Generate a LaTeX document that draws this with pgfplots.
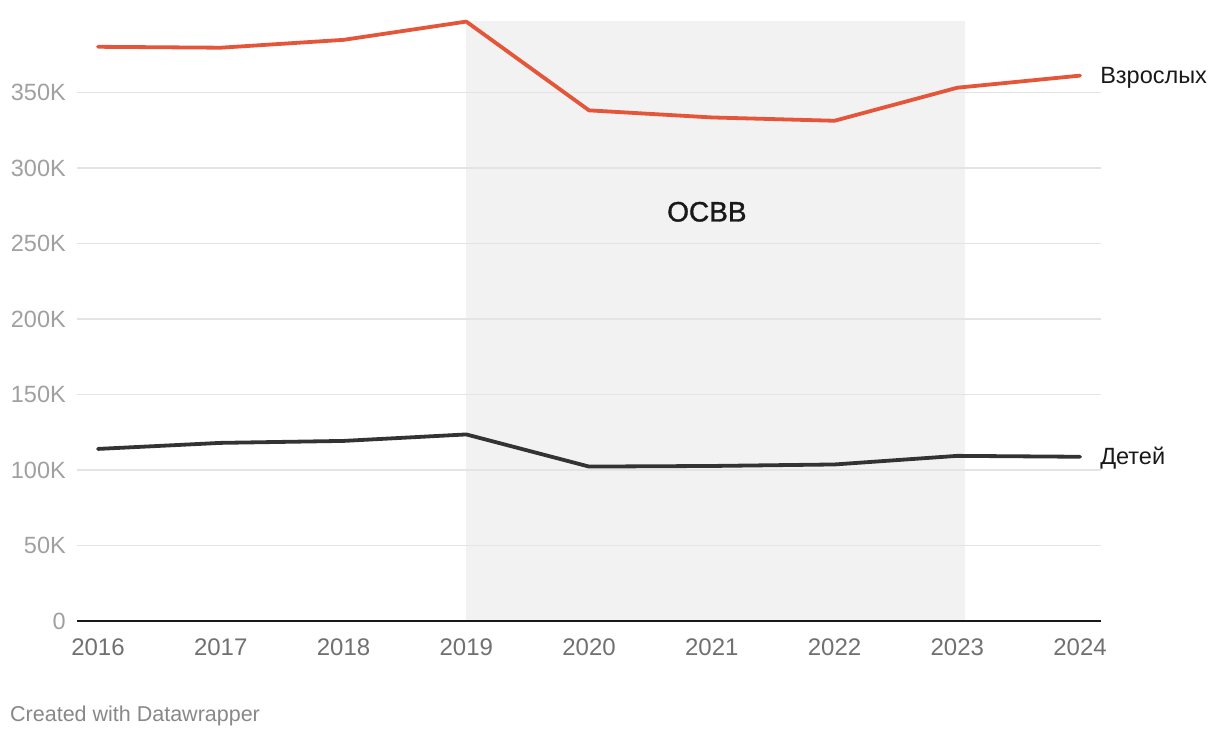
\documentclass[border=0pt]{standalone}
\usepackage{pgfplots}
\pgfplotsset{compat=1.18}
\usepackage{fontspec}
\setmainfont{Liberation Sans}
\newfontfamily\medfont[FakeBold=1.2]{Liberation Sans}
\definecolor{redline}{HTML}{E4553A}
\definecolor{darkline}{HTML}{333333}
\definecolor{shadec}{HTML}{F2F2F2}
\definecolor{gridc}{HTML}{E4E4E4}
\definecolor{ytickc}{HTML}{A0A0A0}
\definecolor{xtickc}{HTML}{707070}
\definecolor{notec}{HTML}{888888}
\begin{document}
\begin{tikzpicture}
\begin{axis}[
  set layers,
  at={(77pt,117pt)}, anchor=south west,
  scale only axis, width=1024pt, height=600pt,
  xmin=2015.829, xmax=2024.171, ymin=0, ymax=397500,
  clip=false,
  axis line style={draw=none},
  major tick length=0pt,
  ymajorgrids, grid style={gridc, line width=1.5pt},
  ytick={0,50000,100000,150000,200000,250000,300000,350000},
  yticklabels={0,50K,100K,150K,200K,250K,300K,350K},
  scaled y ticks=false,
  xtick={2016,2017,2018,2019,2020,2021,2022,2023,2024},
  xticklabels={2016,2017,2018,2019,2020,2021,2022,2023,2024},
  yticklabel style={text=ytickc, font=\fontsize{23.5}{28}\selectfont, anchor=east, inner sep=0pt, xshift=-11pt},
  xticklabel style={text=xtickc, font=\fontsize{24}{28}\selectfont, anchor=north, inner sep=0pt, yshift=-17.5pt},
]
\addplot[fill=shadec, draw=none, on layer=axis background] coordinates {(2019,397500)(2023.06,397500)} \closedcycle;
\addplot[black!90, line width=1.8pt] coordinates {(2015.829,0)(2024.171,0)};
\addplot[darkline, line width=3.8pt, line join=round, line cap=round] coordinates {
(2016,114000)(2017,118000)(2018,119300)(2019,123600)(2020,102300)(2021,102700)(2022,103700)(2023,109400)(2024,108800)};
\addplot[redline, line width=3.8pt, line join=round, line cap=round] coordinates {
(2016,380400)(2017,379800)(2018,385000)(2019,397100)(2020,338300)(2021,333600)(2022,331400)(2023,353300)(2024,361300)};
\node[anchor=base west, inner sep=0pt, xshift=20pt, yshift=-7.5pt, font=\fontsize{23.5}{28}\selectfont, text=black!90] at (axis cs:2024,361300) {Взрослых};
\node[anchor=base west, inner sep=0pt, xshift=20pt, yshift=-7.5pt, font=\fontsize{23.5}{28}\selectfont, text=black!90] at (axis cs:2024,108800) {Детей};
\node[anchor=center, inner sep=0pt, font=\medfont\fontsize{28}{32}\selectfont, text=black!90] at (axis cs:2020.96,271100) {ОСВВ};
\end{axis}
\node[anchor=base west, inner sep=0pt, font=\fontsize{21.5}{26}\selectfont, text=notec] at (10pt,16pt) {Created with Datawrapper};
\pgfresetboundingbox
\useasboundingbox (0,0) rectangle (1220pt,738pt);
\end{tikzpicture}
\end{document}
